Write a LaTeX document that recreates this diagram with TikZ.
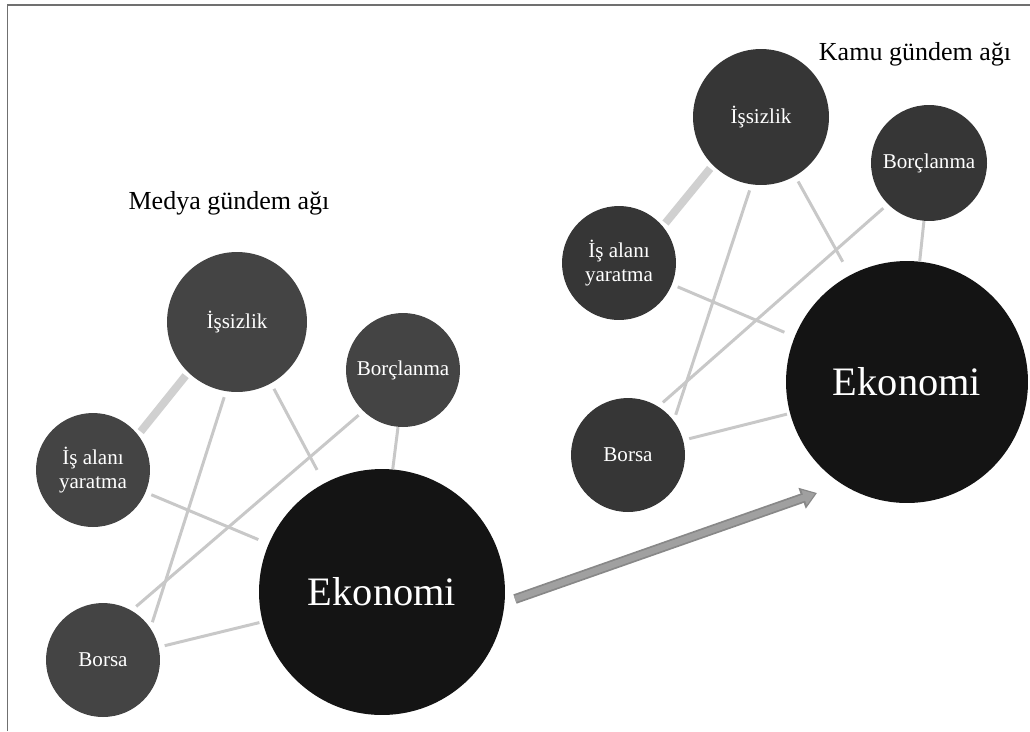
\documentclass[tikz,border=0pt]{standalone}
\usepackage{fontspec}
\setmainfont{Liberation Serif}
\usetikzlibrary{arrows.meta}
\definecolor{cerceve}{HTML}{707070}
\definecolor{medyagri}{HTML}{444444}
\definecolor{kamugri}{HTML}{363636}
\definecolor{merkezgri}{HTML}{141414}
\definecolor{baggri}{HTML}{C8C8C8}
\definecolor{okgri}{HTML}{A0A0A0}

\begin{document}
\begin{tikzpicture}[x=0.02cm,y=-0.02cm]
\tikzstyle{every node}+=[inner sep=0pt]
\tikzstyle{dugum}=[circle,text=white,font=\fontsize{12}{14}\selectfont,align=center]
\tikzstyle{merkez}=[circle,fill=merkezgri,text=white,font=\fontsize{23}{27}\selectfont]
\tikzstyle{baslik}=[font=\fontsize{14.8}{17}\selectfont]
\tikzstyle{bag}=[baggri,line width=1.7pt,shorten <=0.12cm,shorten >=0.12cm]
\tikzstyle{kalinbag}=[baggri!85,line width=4.5pt,shorten <=0.08cm,shorten >=0.08cm]
\useasboundingbox (0,0) rectangle (1030,731);
\draw [cerceve,line width=0.85pt] (7.5,731) -- (7.5,5) -- (1030,5);
\node [baslik] (mBaslik) at (229,203) {Medya gündem ağı};
\node [baslik] (kBaslik) at (915,54) {Kamu gündem ağı};
\node [dugum,fill=medyagri,minimum size=2.8cm] (mIssizlik) at (237,322) {İşsizlik};
\node [dugum,fill=medyagri,minimum size=2.28cm] (mBorclanma) at (403,370) {Borçlanma};
\node [dugum,fill=medyagri,minimum size=2.28cm] (mIsAlani) at (93,470) {İş alanı\\yaratma};
\node [dugum,fill=medyagri,minimum size=2.28cm] (mBorsa) at (103,660) {Borsa};
\node [merkez,minimum size=4.92cm] (mEkonomi) at (382,592) {Ekonomi};
\draw [kalinbag] (mIssizlik.-134) -- (mIsAlani.38);
\draw [bag] (mIssizlik.-99) -- (mBorsa.34);
\draw [bag,shorten >=0.3cm] (mIssizlik.-61) -- (mEkonomi.118);
\draw [bag] (mBorclanma.-134) -- (mBorsa.60);
\draw [bag,shorten <=0cm,shorten >=0cm] (mBorclanma.-95) -- (mEkonomi.85);
\draw [bag,shorten >=0.22cm] (mIsAlani.-23) -- (mEkonomi.157);
\draw [bag,shorten >=0.06cm] (mBorsa.13) -- (mEkonomi.-166);
\node [dugum,fill=kamugri,minimum size=2.72cm] (kIssizlik) at (761,117) {İşsizlik};
\node [dugum,fill=kamugri,minimum size=2.32cm] (kBorclanma) at (929,163) {Borçlanma};
\node [dugum,fill=kamugri,minimum size=2.28cm] (kIsAlani) at (619,263) {İş alanı\\yaratma};
\node [dugum,fill=kamugri,minimum size=2.28cm] (kBorsa) at (628,455) {Borsa};
\node [merkez,minimum size=4.84cm] (kEkonomi) at (907,382) {Ekonomi};
\draw [kalinbag] (kIssizlik.-135) -- (kIsAlani.40);
\draw [bag] (kIssizlik.-98) -- (kBorsa.37);
\draw [bag,shorten >=0.3cm] (kIssizlik.-60) -- (kEkonomi.118);
\draw [bag] (kBorclanma.-135) -- (kBorsa.58);
\draw [bag,shorten <=0cm,shorten >=0cm] (kBorclanma.-95) -- (kEkonomi.84);
\draw [bag,shorten >=0.22cm] (kIsAlani.-22) -- (kEkonomi.158);
\draw [bag,shorten >=0.06cm] (kBorsa.15) -- (kEkonomi.-165);
\coordinate (okBas) at (515,599);
\coordinate (okUc) at (817,493);
\draw [okgri!85!black,line width=5.6pt,-{Triangle[length=9pt,width=12pt]}] (okBas) -- (okUc);
\draw [okgri,line width=3.6pt,shorten >=1.2pt,-{Triangle[length=6.6pt,width=8.6pt]}] (okBas) -- (okUc);
\end{tikzpicture}
\end{document}
